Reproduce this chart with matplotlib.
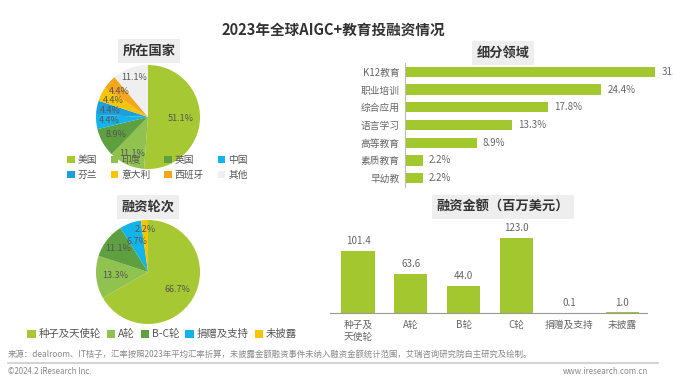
import numpy as np
import matplotlib.pyplot as plt

plt.rcParams['font.family'] = ['Noto Sans CJK SC', 'DejaVu Sans']

W, H = 673, 386

# 数据
countries = ['美国', '印度', '英国', '中国', '芬兰', '意大利', '西班牙', '其他']
country_share = [51.1, 11.1, 8.9, 4.4, 4.4, 4.4, 4.4, 11.1]
country_colors = ['#a6c832', '#8fc24f', '#5e9f3f', '#12b4ea', '#1c9fda', '#f7c500', '#f4a71d', '#efefef']

rounds = ['种子及天使轮', 'A轮', 'B-C轮', '捐赠及支持', '未披露']
round_share = [66.7, 13.3, 11.1, 6.7, 2.2]
round_colors = ['#a6c832', '#8fc24f', '#5e9f3f', '#12b4ea', '#f7c500']

fields = ['K12教育', '职业培训', '综合应用', '语言学习', '高等教育', '素质教育', '早幼教']
field_share = [31.1, 24.4, 17.8, 13.3, 8.9, 2.2, 2.2]

amount_labels = ['种子及\n天使轮', 'A轮', 'B轮', 'C轮', '捐赠及支持', '未披露']
amounts = [101.4, 63.6, 44.0, 123.0, 0.1, 1.0]

bar_color = '#a2c72f'
gray = '#666666'


def px_axes(fig, x, y, w, h):
    # 像素坐标（左上角为原点）转 figure 坐标
    return fig.add_axes([x / W, 1 - (y + h) / H, w / W, h / H])


def box_title(fig, x, y, s):
    fig.text(x / W, 1 - y / H, s, ha='center', va='center', fontsize=9.5,
             fontweight='bold', color='#333333',
             bbox=dict(boxstyle='square,pad=0.35', fc='#eeeeee', ec='none'))


def pie_with_labels(ax, vals, colors, radii):
    wedges, _ = ax.pie(vals, colors=colors, startangle=90, counterclock=False,
                       radius=1, wedgeprops=dict(linewidth=0))
    for w, v, r in zip(wedges, vals, radii):
        ang = np.deg2rad((w.theta1 + w.theta2) / 2)
        ax.text(r * np.cos(ang), r * np.sin(ang), f'{v:.1f}%',
                ha='center', va='center', fontsize=6.5, color='#555555')
    ax.set_xlim(-1, 1)
    ax.set_ylim(-1, 1)
    ax.set_aspect('equal')
    ax.axis('off')
    return wedges


fig = plt.figure(figsize=(W / 100, H / 100), dpi=100)

fig.text(333 / W, 1 - 30 / H, '2023年全球AIGC+教育投融资情况', ha='center', va='center',
         fontsize=10.5, fontweight='bold', color='#333333')

# 所在国家
box_title(fig, 149, 51, '所在国家')
ax1 = px_axes(fig, 96, 65, 104, 104)
w1 = pie_with_labels(ax1, country_share, country_colors,
                     [0.62, 0.76, 0.7, 0.74, 0.74, 0.74, 0.74, 0.8])
# 图例按行排列：调整为列优先顺序
order = [0, 4, 1, 5, 2, 6, 3, 7]
fig.legend([w1[i] for i in order], [countries[i] for i in order], loc='upper left',
           bbox_to_anchor=(58 / W, 1 - 146 / H),
           ncol=4, frameon=False, fontsize=7, handlelength=0.8, handleheight=0.8,
           handletextpad=0.3, columnspacing=1.4, labelspacing=0.5, labelcolor='#555555')

# 融资轮次
box_title(fig, 148, 207, '融资轮次')
ax2 = px_axes(fig, 96, 220, 104, 104)
w2 = pie_with_labels(ax2, round_share, round_colors, [0.66, 0.64, 0.72, 0.62, 0.82])
fig.legend(w2, rounds, loc='upper left', bbox_to_anchor=(18 / W, 1 - 320 / H),
           ncol=5, frameon=False, fontsize=7.5, handlelength=0.8, handleheight=0.8,
           handletextpad=0.3, columnspacing=0.55, labelcolor='#555555')

# 细分领域
box_title(fig, 503, 53, '细分领域')
ax3 = px_axes(fig, 405, 63, 268, 124)
y = np.arange(len(fields))
ax3.barh(y, field_share, height=0.58, color=bar_color)
for yi, v in zip(y, field_share):
    ax3.text(v + 0.8, yi, f'{v:.1f}%', va='center', fontsize=7, color=gray, clip_on=False)
ax3.set_yticks(y)
ax3.set_yticklabels(fields, fontsize=7, color=gray)
ax3.set_ylim(len(fields) - 0.5, -0.5)
ax3.set_xlim(0, 31.1 * 268 / 250)
ax3.set_xticks([])
for s in ['top', 'right', 'bottom']:
    ax3.spines[s].set_visible(False)
ax3.spines['left'].set_color('#bbbbbb')
ax3.tick_params(axis='y', length=0, pad=4)

# 融资金额
box_title(fig, 503, 207, '融资金额（百万美元）')
ax4 = px_axes(fig, 330, 223, 317, 90)
x = np.arange(len(amounts))
ax4.bar(x, amounts, width=0.63, color=bar_color)
for xi, v in zip(x, amounts):
    ax4.text(xi, v + 8, f'{v:.1f}', ha='center', va='bottom', fontsize=7, color=gray)
ax4.set_xlim(-0.53, 5.47)
ax4.set_ylim(0, 123 * 90 / 75)
ax4.set_xticks(x)
ax4.set_xticklabels(amount_labels, fontsize=7, color=gray, linespacing=1.3)
ax4.set_yticks([])
for s in ['top', 'right', 'left']:
    ax4.spines[s].set_visible(False)
ax4.spines['bottom'].set_color('#999999')
ax4.tick_params(axis='x', length=0, pad=5)

# 底部注释
fig.text(8 / W, 1 - 354 / H,
         '来源：dealroom、IT桔子，汇率按照2023年平均汇率折算，未披露金额融资事件未纳入融资金额统计范围，艾瑞咨询研究院自主研究及绘制。',
         ha='left', va='center', fontsize=6, color='#888888')
fig.add_artist(plt.Line2D([8 / W, 658 / W], [1 - 363 / H, 1 - 363 / H], color='#cccccc', lw=1.2))
fig.text(8 / W, 1 - 372 / H, '©2024.2 iResearch Inc.', ha='left', va='center',
         fontsize=5.7, color='#888888')
fig.text(648 / W, 1 - 372 / H, 'www.iresearch.com.cn', ha='right', va='center',
         fontsize=5.7, color='#888888')

fig.savefig('out.png', dpi=100)
